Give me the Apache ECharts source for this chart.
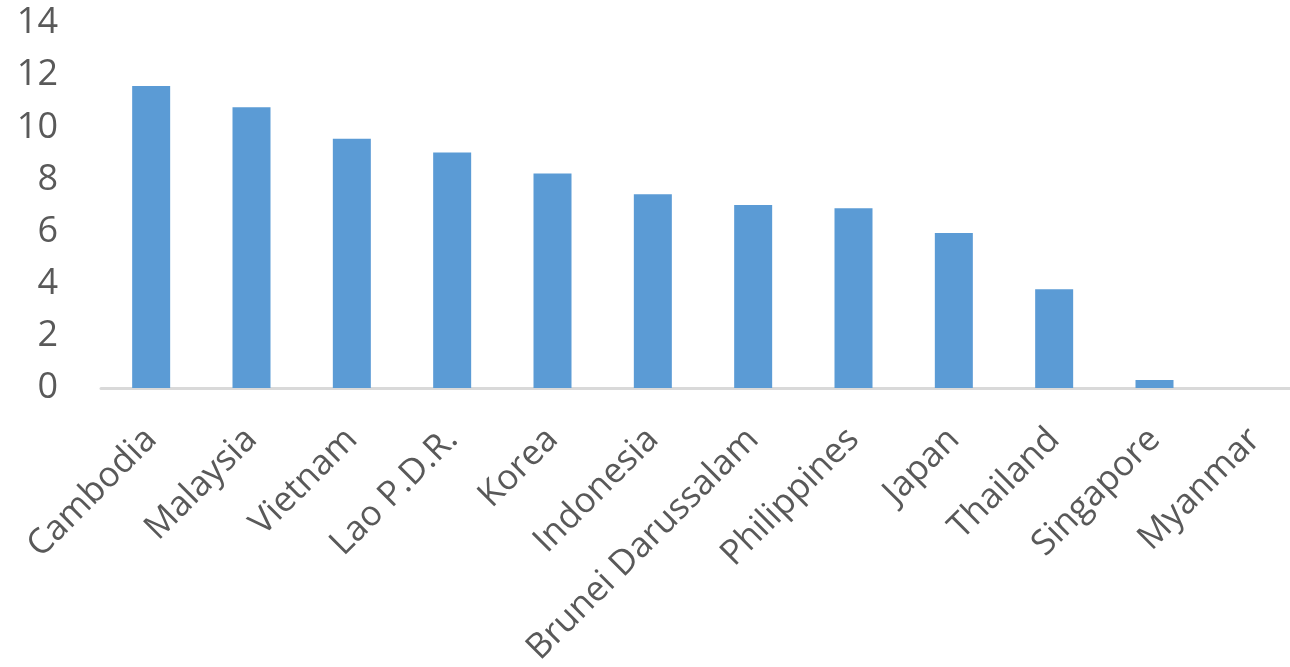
<!DOCTYPE html>
<html>
<head>
<meta charset="utf-8">
<script src="https://cdn.jsdelivr.net/npm/echarts@6/dist/echarts.min.js"></script>
<style>
  html, body { margin: 0; padding: 0; background: #fff; }
  #app { width: 1290px; height: 667px; }
</style>
</head>
<body>
<div id="app"></div>
<script>
var countries = ['Cambodia', 'Malaysia', 'Vietnam', 'Lao P.D.R.', 'Korea', 'Indonesia',
    'Brunei Darussalam', 'Philippines', 'Japan', 'Thailand', 'Singapore', 'Myanmar'];
var values = [11.58, 10.77, 9.56, 9.03, 8.23, 7.43, 7.02, 6.89, 5.95, 3.79, 0.31, 0];

var myChart = echarts.init(document.getElementById('app'));
var option = {
    animation: false,
    grid: {
        left: 101,
        width: 1204,
        top: 23,
        height: 365,
        outerBoundsMode: 'none',
        containLabel: false
    },
    xAxis: {
        type: 'category',
        data: countries,
        axisLine: { lineStyle: { color: '#d9d9d9', width: 3 } },
        axisTick: { show: false },
        axisLabel: {
            rotate: 45,
            interval: 0,
            margin: 46,
            color: '#595959',
            fontFamily: 'Open Sans',
            fontSize: 35
        }
    },
    yAxis: {
        type: 'value',
        min: 0,
        max: 14,
        interval: 2,
        splitLine: { show: false },
        axisLine: { show: false },
        axisTick: { show: false },
        axisLabel: {
            margin: 43,
            color: '#595959',
            fontFamily: 'Open Sans',
            fontSize: 36
        }
    },
    series: [{
        type: 'bar',
        data: values,
        barWidth: 38,
        itemStyle: { color: '#5b9bd5' }
    }]
};
myChart.setOption(option);
</script>
</body>
</html>
